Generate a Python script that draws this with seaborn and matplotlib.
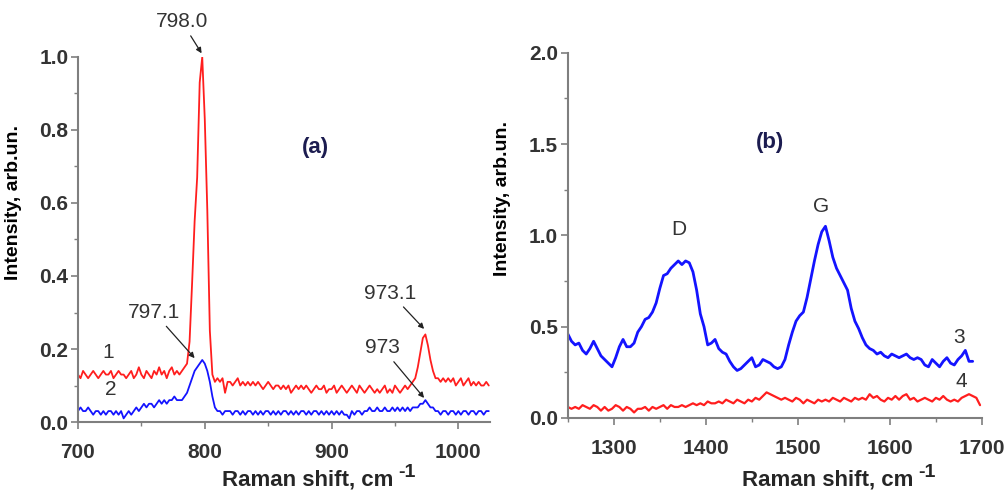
import numpy as np
import matplotlib
matplotlib.use("Agg")
import matplotlib.pyplot as plt
from matplotlib.ticker import MultipleLocator
import seaborn as sns

# panel (a): spectra 1 and 2, 700..1024 cm-1, step 2
shift_a = np.arange(700, 1025, 2)
spec1 = [
    0.13, 0.12, 0.14, 0.13, 0.12, 0.13, 0.14, 0.13, 0.12, 0.13,
    0.14, 0.13, 0.13, 0.14, 0.12, 0.13, 0.14, 0.13, 0.13, 0.12,
    0.13, 0.14, 0.12, 0.13, 0.15, 0.13, 0.12, 0.14, 0.13, 0.12,
    0.14, 0.13, 0.15, 0.13, 0.14, 0.12, 0.14, 0.15, 0.13, 0.14,
    0.13, 0.14, 0.15, 0.16, 0.22, 0.38, 0.55, 0.67, 0.93, 1.00,
    0.83, 0.58, 0.25, 0.13, 0.11, 0.12, 0.11, 0.12, 0.08, 0.11,
    0.11, 0.10, 0.11, 0.12, 0.10, 0.11, 0.10, 0.11, 0.10, 0.11,
    0.10, 0.11, 0.10, 0.09, 0.10, 0.11, 0.10, 0.09, 0.10, 0.10,
    0.09, 0.10, 0.09, 0.10, 0.08, 0.09, 0.10, 0.09, 0.10, 0.09,
    0.10, 0.09, 0.08, 0.09, 0.10, 0.09, 0.09, 0.10, 0.08, 0.09,
    0.09, 0.10, 0.08, 0.09, 0.10, 0.09, 0.08, 0.09, 0.10, 0.09,
    0.08, 0.10, 0.09, 0.08, 0.09, 0.10, 0.09, 0.08, 0.09, 0.08,
    0.09, 0.10, 0.08, 0.09, 0.08, 0.10, 0.09, 0.08, 0.09, 0.10,
    0.09, 0.10, 0.11, 0.12, 0.15, 0.19, 0.23, 0.24, 0.21, 0.17,
    0.14, 0.12, 0.12, 0.11, 0.12, 0.11, 0.12, 0.11, 0.12, 0.10,
    0.11, 0.12, 0.10, 0.11, 0.12, 0.10, 0.11, 0.10, 0.11, 0.10,
    0.10, 0.11, 0.10,
]
spec2 = [
    0.03, 0.04, 0.03, 0.03, 0.04, 0.03, 0.02, 0.03, 0.03, 0.02,
    0.03, 0.02, 0.03, 0.03, 0.02, 0.03, 0.02, 0.03, 0.01, 0.02,
    0.03, 0.02, 0.03, 0.04, 0.03, 0.04, 0.05, 0.04, 0.05, 0.05,
    0.04, 0.05, 0.06, 0.05, 0.06, 0.05, 0.06, 0.06, 0.07, 0.06,
    0.06, 0.06, 0.07, 0.08, 0.10, 0.12, 0.14, 0.15, 0.16, 0.17,
    0.16, 0.14, 0.11, 0.07, 0.04, 0.03, 0.03, 0.02, 0.03, 0.03,
    0.03, 0.02, 0.03, 0.03, 0.02, 0.03, 0.02, 0.03, 0.03, 0.02,
    0.03, 0.02, 0.03, 0.02, 0.03, 0.03, 0.02, 0.03, 0.02, 0.03,
    0.02, 0.03, 0.03, 0.02, 0.03, 0.02, 0.03, 0.02, 0.03, 0.03,
    0.02, 0.03, 0.02, 0.03, 0.03, 0.02, 0.03, 0.02, 0.03, 0.02,
    0.03, 0.02, 0.03, 0.02, 0.03, 0.02, 0.02, 0.01, 0.03, 0.02,
    0.03, 0.03, 0.02, 0.03, 0.03, 0.04, 0.03, 0.03, 0.04, 0.03,
    0.03, 0.04, 0.03, 0.03, 0.04, 0.03, 0.04, 0.03, 0.04, 0.03,
    0.04, 0.03, 0.04, 0.04, 0.04, 0.05, 0.05, 0.06, 0.05, 0.04,
    0.04, 0.03, 0.03, 0.02, 0.03, 0.03, 0.02, 0.03, 0.03, 0.02,
    0.03, 0.02, 0.03, 0.03, 0.02, 0.03, 0.03, 0.02, 0.03, 0.03,
    0.02, 0.03, 0.03,
]

# panel (b): spectrum 3 (1250..1690) and 4 (1250..1698), step 4
shift_3 = np.arange(1250, 1691, 4)
spec3 = [
    0.46, 0.42, 0.40, 0.41, 0.37, 0.35, 0.38, 0.42, 0.38, 0.34,
    0.32, 0.30, 0.28, 0.33, 0.39, 0.43, 0.39, 0.39, 0.41, 0.47,
    0.50, 0.54, 0.55, 0.58, 0.63, 0.71, 0.78, 0.79, 0.82, 0.84,
    0.86, 0.84, 0.86, 0.85, 0.80, 0.70, 0.57, 0.50, 0.40, 0.41,
    0.43, 0.38, 0.36, 0.35, 0.31, 0.28, 0.26, 0.27, 0.29, 0.31,
    0.33, 0.28, 0.29, 0.32, 0.31, 0.30, 0.28, 0.27, 0.28, 0.32,
    0.40, 0.47, 0.53, 0.56, 0.58, 0.66, 0.76, 0.86, 0.95, 1.02,
    1.05, 0.97, 0.88, 0.82, 0.78, 0.74, 0.70, 0.60, 0.53, 0.49,
    0.44, 0.40, 0.38, 0.37, 0.35, 0.36, 0.34, 0.33, 0.35, 0.34,
    0.33, 0.34, 0.35, 0.33, 0.32, 0.33, 0.32, 0.29, 0.28, 0.32,
    0.30, 0.28, 0.31, 0.33, 0.30, 0.29, 0.32, 0.34, 0.37, 0.31,
    0.31,
]
shift_4 = np.arange(1250, 1699, 4)
spec4 = [
    0.06, 0.05, 0.06, 0.05, 0.07, 0.06, 0.05, 0.07, 0.06, 0.04,
    0.06, 0.04, 0.05, 0.07, 0.06, 0.04, 0.06, 0.05, 0.03, 0.05,
    0.05, 0.06, 0.04, 0.06, 0.05, 0.06, 0.07, 0.05, 0.07, 0.06,
    0.06, 0.07, 0.06, 0.07, 0.08, 0.07, 0.08, 0.07, 0.09, 0.08,
    0.08, 0.09, 0.08, 0.10, 0.09, 0.08, 0.10, 0.09, 0.08, 0.10,
    0.09, 0.11, 0.10, 0.12, 0.14, 0.13, 0.12, 0.11, 0.10, 0.11,
    0.10, 0.09, 0.11, 0.10, 0.08, 0.10, 0.09, 0.08, 0.10, 0.09,
    0.10, 0.09, 0.11, 0.10, 0.09, 0.11, 0.10, 0.09, 0.11, 0.10,
    0.11, 0.10, 0.13, 0.11, 0.12, 0.10, 0.09, 0.11, 0.10, 0.12,
    0.10, 0.12, 0.13, 0.10, 0.11, 0.09, 0.10, 0.11, 0.10, 0.09,
    0.11, 0.10, 0.12, 0.10, 0.09, 0.10, 0.09, 0.11, 0.12, 0.13,
    0.12, 0.11, 0.07,
]

sns.set_style("ticks")
bold_font = ["Liberation Sans", "DejaVu Sans"]
plt.rcParams["font.family"] = bold_font

RED = "#ff1e1e"
BLUE = "#1414ff"
SPINE = "#7f7f7f"
TXT = "#333333"

fig = plt.figure(figsize=(10.05, 4.94), dpi=100)
ax1 = fig.add_axes([0.0776, 0.1457, 0.41, 0.739])
ax2 = fig.add_axes([0.565, 0.154, 0.412, 0.739])

sns.lineplot(x=shift_a, y=spec1, ax=ax1, color=RED, lw=1.3)
sns.lineplot(x=shift_a, y=spec2, ax=ax1, color=BLUE, lw=1.3)
sns.lineplot(x=shift_4, y=spec4, ax=ax2, color=RED, lw=1.6)
sns.lineplot(x=shift_3, y=spec3, ax=ax2, color=BLUE, lw=2.0)

ax1.set_xlim(700, 1025)
ax1.set_ylim(0, 1.0)
ax1.xaxis.set_major_locator(MultipleLocator(100))
ax1.xaxis.set_minor_locator(MultipleLocator(50))
ax1.yaxis.set_major_locator(MultipleLocator(0.2))
ax1.yaxis.set_minor_locator(MultipleLocator(0.1))
ax1.yaxis.set_major_formatter(matplotlib.ticker.FormatStrFormatter("%.1f"))

ax2.set_xlim(1250, 1700)
ax2.set_ylim(0, 2.0)
ax2.xaxis.set_major_locator(MultipleLocator(100))
ax2.xaxis.set_minor_locator(MultipleLocator(50))
ax2.yaxis.set_major_locator(MultipleLocator(0.5))
ax2.yaxis.set_minor_locator(MultipleLocator(0.25))
ax2.yaxis.set_major_formatter(matplotlib.ticker.FormatStrFormatter("%.1f"))

for ax in (ax1, ax2):
    sns.despine(ax=ax)
    for s in ("left", "bottom"):
        ax.spines[s].set_color(SPINE)
        ax.spines[s].set_linewidth(1.5)
    ax.tick_params(which="major", length=5, width=1.2, color=SPINE)
    ax.tick_params(which="minor", length=3, width=1.0, color=SPINE)
    ax.tick_params(axis="y", pad=2)
    ax.tick_params(axis="x", pad=10)
    for lab in ax.get_xticklabels() + ax.get_yticklabels():
        lab.set_fontsize(15)
        lab.set_fontweight("bold")
        lab.set_color(TXT)
    ax.set_ylabel("Intensity, arb.un.", fontsize=14, fontweight="bold",
                  color="black")
    ax.set_xlabel("")
ax1.yaxis.set_label_coords(-0.136, 0.60)
ax2.yaxis.set_label_coords(-0.138, 0.60)

# x-axis titles, with the big superscript just after "cm"
fig.canvas.draw()
renderer = fig.canvas.get_renderer()
for x0 in (222, 742):
    t = fig.text(x0 / 1005, 1 - 485 / 494, "Raman shift, cm", fontsize=16,
                 fontweight="bold", va="baseline")
    right_px = t.get_window_extent(renderer).x1
    fig.text((right_px + 5) / 1005, 1 - 477 / 494, "-1", fontsize=14,
             fontweight="bold", va="baseline")

arrow = dict(arrowstyle="-|>", color="#222222", lw=0.9, mutation_scale=8,
             shrinkA=1, shrinkB=0)
note = dict(fontsize=15, color=TXT, ha="center", va="center",
            annotation_clip=False)
ax1.annotate("798.0", xy=(797.5, 1.01), xytext=(782, 1.096),
             arrowprops=arrow, **note)
ax1.annotate("797.1", xy=(792, 0.175), xytext=(760, 0.30),
             arrowprops=arrow, **note)
ax1.annotate("973.1", xy=(973, 0.255), xytext=(946.5, 0.353),
             arrowprops=arrow, **note)
ax1.annotate("973", xy=(973, 0.066), xytext=(940, 0.203),
             arrowprops=arrow, **note)
ax1.text(723.6, 0.19, "1", fontsize=15, color=TXT, ha="center", va="center")
ax1.text(726, 0.09, "2", fontsize=15, color=TXT, ha="center", va="center")
ax1.text(887, 0.753, "(a)", fontsize=16, fontweight="bold",
         color="#1c1c50", ha="center", va="center")

ax2.text(1470, 1.51, "(b)", fontsize=16, fontweight="bold",
         color="#1c1c50", ha="center", va="center")
ax2.text(1371, 1.03, "D", fontsize=15, color=TXT, ha="center", va="center")
ax2.text(1525, 1.156, "G", fontsize=15, color=TXT, ha="center", va="center")
ax2.text(1675, 0.44, "3", fontsize=15, color=TXT, ha="center", va="center")
ax2.text(1678, 0.197, "4", fontsize=15, color=TXT, ha="center", va="center")

fig.savefig("out.png", dpi=100)
